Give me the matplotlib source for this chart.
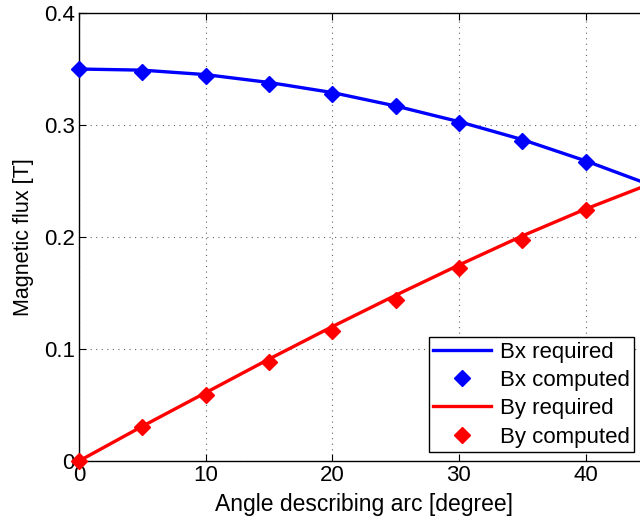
import matplotlib.pyplot as plt

plt.rcParams['font.family'] = ['Liberation Sans', 'DejaVu Sans']

# angle of arc [degree]
angle = [0, 5, 10, 15, 20, 25, 30, 35, 40, 45, 50]
bx_required = [0.350, 0.349, 0.345, 0.338, 0.329, 0.317, 0.303, 0.287, 0.268, 0.247, 0.225]
by_required = [0.000, 0.031, 0.061, 0.091, 0.120, 0.148, 0.175, 0.201, 0.225, 0.247, 0.268]

angle_comp = [0, 5, 10, 15, 20, 25, 30, 35, 40, 45]
bx_computed = [0.350, 0.347, 0.344, 0.337, 0.328, 0.317, 0.302, 0.286, 0.267, 0.247]
by_computed = [0.000, 0.030, 0.059, 0.088, 0.116, 0.144, 0.172, 0.197, 0.224, 0.247]

xticks = [0, 10, 20, 30, 40]
yticks = [0, 0.1, 0.2, 0.3, 0.4]
ytick_labels = ['0', '0.1', '0.2', '0.3', '0.4']

fig = plt.figure(figsize=(6.4, 5.23), dpi=100)
# axes runs a bit past the right edge, like the cropped original
ax = fig.add_axes([0.1234, 0.1185, 0.8906, 0.8566])

ax.plot(angle, bx_required, color='blue', lw=2.4, label='Bx required')
ax.plot(angle_comp, bx_computed, 'D', color='blue', ms=8, ls='none',
        label='Bx computed', clip_on=False, zorder=5)
ax.plot(angle, by_required, color='red', lw=2.4, label='By required')
ax.plot(angle_comp, by_computed, 'D', color='red', ms=8, ls='none',
        label='By computed', clip_on=False, zorder=5)

ax.set_xlim(0, 45)
ax.set_ylim(0, 0.4)
ax.set_xticks(xticks)
ax.set_yticks(yticks)
ax.set_yticklabels(ytick_labels)
ax.tick_params(direction='in', labelsize=16, length=5, width=0.8, pad=3)
ax.tick_params(top=True, right=True)
ax.grid(True, ls=(0, (1, 4)), color='#666666', lw=0.8)
for s in ax.spines.values():
    s.set_linewidth(1.0)

ax.set_xlabel('Angle describing arc [degree]', fontsize=16.5, labelpad=5)
ax.set_ylabel('Magnetic flux [T]', fontsize=15.5, labelpad=7)

leg = ax.legend(loc='lower right', bbox_to_anchor=(634 / 640, 1 - 452 / 523),
                bbox_transform=fig.transFigure, fontsize=16, fancybox=False,
                framealpha=1, edgecolor='black', borderaxespad=0,
                handlelength=2.6, labelspacing=0.33, borderpad=0.2, handletextpad=0.4)
leg.get_frame().set_linewidth(1.0)

fig.savefig('out.png', dpi=100)
